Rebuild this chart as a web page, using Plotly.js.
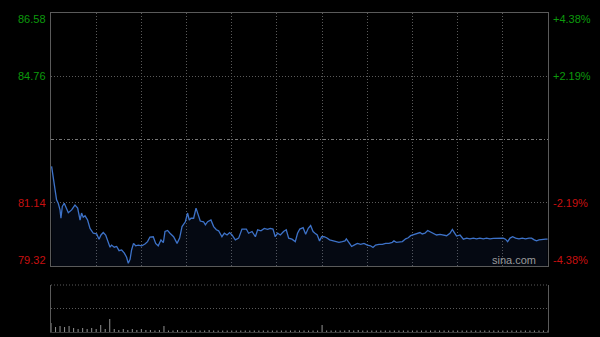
<!DOCTYPE html>
<html>
<head>
<meta charset="utf-8">
<script src="https://cdn.plot.ly/plotly-3.0.1.min.js"></script>
<style>
html,body{margin:0;padding:0;background:#000;}
#chart{width:600px;height:337px;}
</style>
</head>
<body>
<div id="chart"></div>
<script>
// minutes since open (HK session, 330 trading minutes)
var minutes = [0.4,1.5,2.7,3.7,4.8,6.0,6.6,7.5,8.8,10.4,11.5,13.7,15.9,17.7,19.3,20.3,21.4,22.6,24.3,25.9,28.1,30.3,31.9,33.2,34.7,36.3,38.0,39.2,40.2,42.0,43.6,45.2,46.9,48.7,50.2,51.3,52.5,53.5,54.8,56.2,58.0,60.2,62.4,64.1,65.7,67.9,69.5,71.2,73.0,74.6,75.7,77.4,79.0,80.5,
81.4,83.7,85.4,87.0,89.2,90.7,91.8,93.0,94.7,96.3,97.6,99.1,101.3,102.5,104.0,106.2,108.0,109.8,111.3,113.5,115.1,116.9,118.6,120.2,122.4,124.6,126.8,129.7,131.2,133.5,135.7,137.2,139.4,141.6,143.8,145.6,147.4,148.9,150.5,152.3,154.4,156.2,157.8,160.0,162.2,
163.7,165.2,167.4,169.1,170.8,172.4,174.0,175.3,176.8,178.3,179.7,181.3,183.0,185.0,187.2,189.0,191.2,193.4,195.2,196.1,197.9,199.6,201.2,203.4,205.6,207.8,210.0,212.2,213.8,215.5,217.8,220.0,222.2,224.4,226.6,227.7,229.3,231.5,233.3,235.5,237.2,238.8,241.0,243.2,
245.0,246.5,248.3,250.1,251.7,253.8,256.0,258.3,260.5,262.7,264.9,266.5,267.8,269.3,271.6,273.8,276.0,278.2,280.4,282.6,284.8,287.0,289.2,291.5,293.7,295.9,298.1,300.3,301.8,303.2,304.8,306.5,308.5,310.7,312.9,315.1,317.4,319.1,320.9,322.4,324.0,326.2,328.4,329.7];
var prices = [82.18,81.89,81.51,81.22,81.12,80.93,80.69,81.03,81.12,80.98,80.85,80.93,81.07,80.98,80.64,80.84,80.72,80.76,80.64,80.40,80.26,80.24,80.09,80.21,80.28,80.21,79.99,79.86,79.92,79.86,79.88,79.76,79.78,79.69,79.57,79.40,79.51,79.78,79.97,79.90,79.92,79.90,79.95,80.02,80.15,80.16,79.97,79.90,80.07,79.99,80.31,80.34,80.26,80.18,
80.16,79.97,80.12,80.45,80.59,80.84,80.64,80.69,80.69,80.98,80.79,80.61,80.59,80.50,80.59,80.64,80.45,80.36,80.33,80.16,80.26,80.21,80.28,80.21,80.07,80.12,80.38,80.38,80.26,80.31,80.16,80.36,80.33,80.40,80.37,80.40,80.38,80.16,80.26,80.21,80.31,80.36,80.12,80.09,80.02,
80.26,80.38,80.42,80.23,80.40,80.48,80.31,80.26,80.21,80.04,80.16,80.16,80.13,80.07,80.04,80.02,80.00,80.02,80.04,80.10,79.97,79.88,79.92,79.97,79.94,79.97,79.92,79.90,79.85,79.92,79.94,79.94,79.97,79.97,80.00,80.04,80.00,80.02,80.02,80.10,80.13,80.19,80.23,80.26,
80.28,80.24,80.26,80.34,80.30,80.26,80.21,80.23,80.21,80.19,80.26,80.37,80.28,80.18,80.21,80.09,80.12,80.10,80.12,80.10,80.12,80.10,80.12,80.10,80.11,80.12,80.12,80.12,80.09,80.02,80.12,80.16,80.12,80.10,80.12,80.10,80.12,80.12,80.07,80.04,80.07,80.09,80.09,80.09];

var prevClose = 82.95;
var priceLabels = [86.58, 84.76, 81.14, 79.32];
var pctLabels = ["+4.38%", "+2.19%", "-2.19%", "-4.38%"];
var gridPrices = [84.76, 81.14];

// volume, every 3 minutes
var volMinutes = [];
for (var i = 0; i <= 330; i += 3) volMinutes.push(i);
var volumes = [90,50,60,50,60,40,30,40,30,40,30,70,30,130,30,20,30,20,30,20,30,20,20,15,20,60,15,15,20,15,
15,15,15,15,15,20,15,15,15,15,15,15,15,15,15,15,15,15,15,15,15,15,15,15,15,15,15,15,15,15,
70,15,15,15,15,15,20,15,20,15,15,15,15,15,15,15,15,15,15,15,15,15,15,15,15,15,15,15,15,15,
15,15,15,15,15,15,15,15,15,15,15,15,15,15,15,15,15,15,15,15,15];

var gridCol = '#5a5a5a';
var frameCol = '#5a5a5a';
var green = '#0c9a0c';
var red = '#c81010';
var dotted = '1px,2px';

var traces = [
  {x: minutes, y: prices, type: 'scatter', mode: 'lines', xaxis: 'x', yaxis: 'y',
   line: {color: '#3d72c8', width: 1.3}, fill: 'tozeroy', fillcolor: 'rgba(40,70,140,0.13)', hoverinfo: 'skip'},
  {x: volMinutes, y: volumes, type: 'bar', xaxis: 'x2', yaxis: 'y2',
   marker: {color: '#8a8a8a', line: {width: 0}}, width: 0.7, hoverinfo: 'skip'}
];

var ann = [];
for (var k = 0; k < priceLabels.length; k++) {
  var col = priceLabels[k] > prevClose ? green : red;
  var ys = k === 0 ? -6 : (k === priceLabels.length - 1 ? 6 : 0);
  ann.push({xref: 'paper', yref: 'y', x: 0, y: priceLabels[k], text: priceLabels[k].toFixed(2),
    xanchor: 'right', yanchor: 'middle', xshift: -3, yshift: ys, showarrow: false,
    font: {family: 'Liberation Sans, Arial, sans-serif', size: 11, color: col}});
  ann.push({xref: 'paper', yref: 'y', x: 1, y: priceLabels[k], text: pctLabels[k],
    xanchor: 'left', yanchor: 'middle', xshift: 3, yshift: ys, showarrow: false,
    font: {family: 'Liberation Sans, Arial, sans-serif', size: 11, color: col}});
}
ann.push({xref: 'paper', yref: 'y', x: 1, y: priceLabels[3], text: 'sina.com',
  xanchor: 'right', yanchor: 'middle', xshift: -10, yshift: 6, showarrow: false,
  font: {family: 'Liberation Sans, Arial, sans-serif', size: 11, color: '#9a9a9a'}});

var layout = {
  width: 600, height: 337,
  paper_bgcolor: '#000', plot_bgcolor: '#000',
  margin: {l: 51, r: 52, t: 13, b: 5, pad: 0},
  showlegend: false,
  xaxis: {domain: [0, 1], range: [0, 330], tickvals: [30,60,90,120,150,180,210,240,270,300],
    showticklabels: false, ticks: '', showgrid: true, gridcolor: gridCol, griddash: dotted, gridwidth: 1,
    showline: true, mirror: true, linecolor: frameCol, linewidth: 1, zeroline: false, anchor: 'y', fixedrange: true},
  yaxis: {domain: [0.2069, 1], range: [79.32, 86.58], tickvals: gridPrices, showticklabels: false, ticks: '',
    showgrid: true, gridcolor: gridCol, griddash: dotted, gridwidth: 1,
    showline: true, mirror: true, linecolor: frameCol, linewidth: 1, zeroline: false, anchor: 'x', fixedrange: true},
  xaxis2: {domain: [0, 1], range: [0, 330], showticklabels: false, ticks: '', showgrid: false,
    showline: true, linecolor: '#3a3a3a', linewidth: 1, zeroline: false, anchor: 'y2', fixedrange: true},
  yaxis2: {domain: [0, 0.1473], range: [0, 467], showticklabels: false, ticks: '', showgrid: false,
    showline: true, mirror: true, linecolor: frameCol, linewidth: 1, zeroline: false, anchor: 'x2', fixedrange: true},
  shapes: [
    {type: 'line', xref: 'x domain', yref: 'y', x0: 0, x1: 1, y0: prevClose, y1: prevClose,
     line: {color: '#777777', width: 1, dash: '3px,2px,1px,2px'}},
    {type: 'line', xref: 'x2 domain', yref: 'y2 domain', x0: 0, x1: 1, y0: 1, y1: 1,
     line: {color: gridCol, width: 1, dash: dotted}},
    {type: 'line', xref: 'x2 domain', yref: 'y2 domain', x0: 0, x1: 1, y0: 0.5, y1: 0.5,
     line: {color: gridCol, width: 1, dash: dotted}}
  ],
  annotations: ann
};

Plotly.newPlot('chart', traces, layout, {staticPlot: true, displayModeBar: false});
</script>
</body>
</html>
